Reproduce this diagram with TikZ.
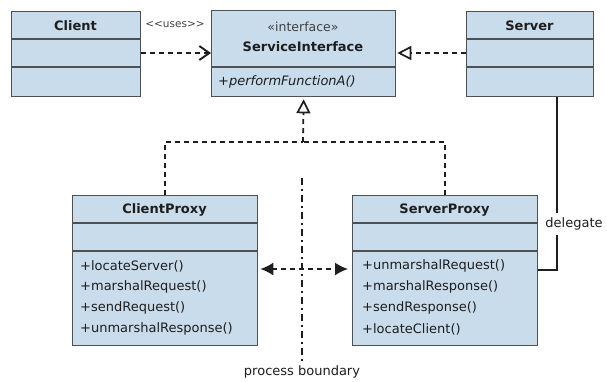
\documentclass[tikz,border=0pt]{standalone}
\usepackage{fontspec}
\setmainfont{DejaVu Sans}
\usetikzlibrary{arrows.meta,calc}
\definecolor{classfill}{HTML}{C9DCEC}
\definecolor{classline}{HTML}{505050}
\definecolor{inkline}{HTML}{1E1E1E}

\begin{document}
\begin{tikzpicture}[x=1pt,y=-1pt,
  classbox/.style={draw=classline, fill=classfill, line width=1.3pt,
    anchor=north west, inner sep=0pt},
  divider/.style={draw=classline, line width=1.6pt},
  classtitle/.style={font=\fontsize{13}{15}\selectfont\bfseries, text=inkline, inner sep=1pt},
  stereo/.style={font=\fontsize{12.5}{14}\selectfont, text=inkline!85, inner sep=1pt},
  member/.style={font=\fontsize{13}{15}\selectfont, text=inkline, anchor=west, inner sep=1pt},
  small/.style={font=\fontsize{10.5}{12}\selectfont, text=inkline!85, inner sep=1pt},
  dep/.style={draw=inkline, line width=1.8pt, dash pattern=on 5pt off 4pt},
  solidlink/.style={draw=inkline, line width=1.8pt},
  boundary/.style={draw=inkline, line width=1.5pt, dash pattern=on 7pt off 4pt on 2pt off 4pt},
  realize/.style={-{Triangle[open, length=14pt, width=14pt, line width=1.7pt]}}
]
\useasboundingbox (0,0) rectangle (607,381);

% ---- class boxes ----
\node[classbox, minimum width=129pt, minimum height=85pt] (client) at (11,11) {};
\node[classbox, minimum width=184pt, minimum height=86pt] (si) at (211,10) {};
\node[classbox, minimum width=127pt, minimum height=85pt] (server) at (466,11) {};
\node[classbox, minimum width=185pt, minimum height=150pt] (cproxy) at (72,195) {};
\node[classbox, minimum width=185pt, minimum height=150pt] (sproxy) at (352,195) {};

% compartment separators
\foreach \b in {client,server} {
  \draw[divider] (\b.west |- 0,39) -- (\b.east |- 0,39);
  \draw[divider] (\b.west |- 0,67) -- (\b.east |- 0,67);
}
\draw[divider] (si.west |- 0,67) -- (si.east |- 0,67);
\foreach \b in {cproxy,sproxy} {
  \draw[divider] (\b.west |- 0,223) -- (\b.east |- 0,223);
  \draw[divider] (\b.west |- 0,251) -- (\b.east |- 0,251);
}

% ---- class names and members ----
\node[classtitle] (clientname) at (75.5,25.5) {Client};
\node[classtitle] (servername) at (529.5,25.5) {Server};
\node[stereo] (sistereo) at (303,27) {«interface»};
\node[classtitle] (siname) at (303,47) {ServiceInterface};
\node[member, font=\fontsize{13}{15}\selectfont\itshape] (siop) at (217,82) {+performFunctionA()};

\node[classtitle] (cpname) at (164.5,210) {ClientProxy};
\node[member] (cp1) at (79,266) {+locateServer()};
\node[member] (cp2) at (79,287) {+marshalRequest()};
\node[member] (cp3) at (79,308) {+sendRequest()};
\node[member] (cp4) at (79,329) {+unmarshalResponse()};

\node[classtitle] (spname) at (444.5,210) {ServerProxy};
\node[member] (sp1) at (361,266) {+unmarshalRequest()};
\node[member] (sp2) at (361,287) {+marshalResponse()};
\node[member] (sp3) at (361,308) {+sendResponse()};
\node[member] (sp4) at (361,329) {+locateClient()};

% ---- relationships ----
% uses dependency
\draw[dep, -{Straight Barb[length=10pt,width=14pt,line width=1.9pt]}]
  (client.east |- 0,53) -- (si.west |- 0,53);
\node[small] (useslabel) at (175,25) {<{}<uses>{}>};

% Server realizes the interface
\draw[dep, realize, shorten >=1pt]
  (server.west |- 0,53) -- (si.east |- 0,53);

% both proxies realize the interface
\coordinate (join) at (303,142);
\draw[dep, realize, shorten >=2pt] (join) -- (si.south);
\draw[dep] (cproxy.north) |- (join);
\draw[dep] (sproxy.north) |- (join);

% proxies talk across the process boundary
\draw[dep, {Latex[length=13pt,width=13pt]}-{Latex[length=13pt,width=13pt]}, shorten <=2pt, shorten >=4pt]
  (cproxy.east |- 0,269) -- (sproxy.west |- 0,269);

% process boundary
\coordinate (pbtop) at (302,178);
\node[font=\fontsize{13}{15}\selectfont, text=inkline, inner sep=1pt] (pblabel) at (302,372) {process boundary};
\draw[boundary] (pbtop) -- (pblabel.north);

% ServerProxy delegates to Server
\draw[solidlink] (server.south -| 557,0) |- (sproxy.east |- 0,270);
\node[font=\fontsize{13}{15}\selectfont, text=inkline, fill=white, inner xsep=1pt, inner ysep=5pt] (delegatelabel) at (574,224) {delegate};
\end{tikzpicture}
\end{document}
